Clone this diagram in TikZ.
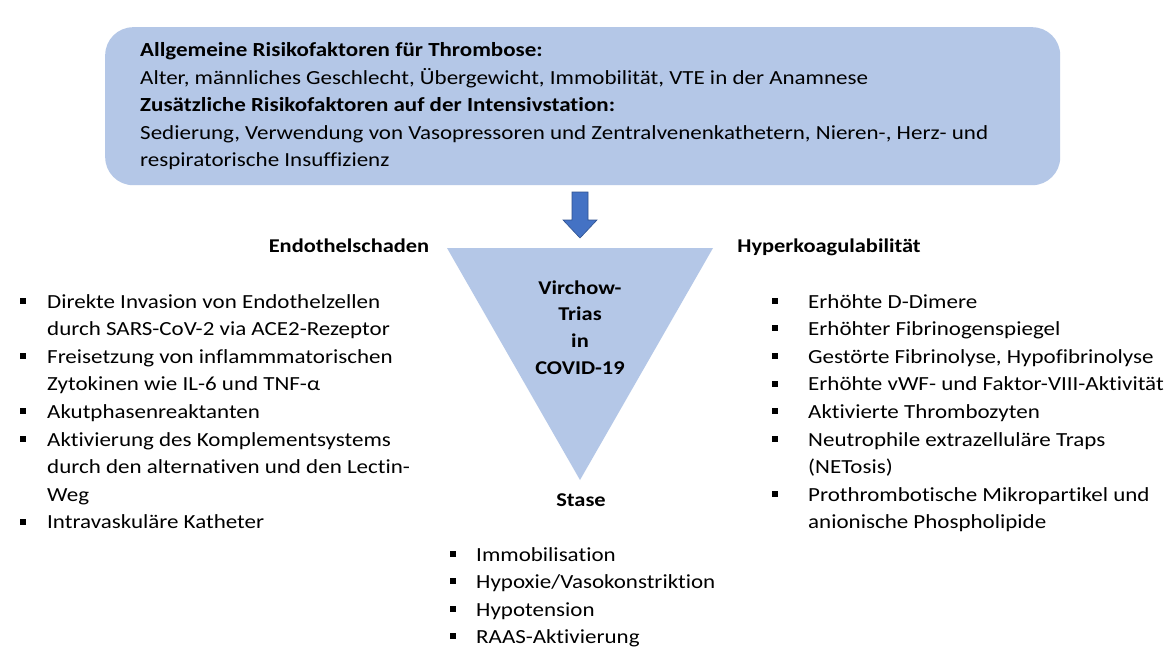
\documentclass[tikz,border=0pt]{standalone}
\usepackage{fontspec}
\setmainfont{Carlito}[FakeStretch=1.15, Ligatures=CommonOff]
\definecolor{boxblue}{HTML}{B4C7E7}
\definecolor{arrowblue}{HTML}{4472C4}
\definecolor{arrowdark}{HTML}{2F528F}
\begin{document}
\begin{tikzpicture}[x=1pt,y=-1pt,
  txt/.style={font=\fontsize{20}{24}\selectfont, inner sep=0pt, anchor=base west, text=black},
  bold/.style={txt, font=\fontsize{20}{24}\selectfont\bfseries},
  head/.style={txt, font=\fontsize{19.5}{24}\selectfont\bfseries, anchor=base},
  bul/.style={fill=black, inner sep=0pt, minimum size=6pt, draw=none},
  panel/.style={fill=boxblue, draw=none, rounded corners=28pt},
  bigarrow/.style={fill=arrowblue, draw=arrowdark, line width=0.6pt}
]
\useasboundingbox (0,0) rectangle (1173,664);
\fill[white] (0,0) rectangle (1173,664);

% top panel
\node[panel, anchor=north west, minimum width=955pt, minimum height=158pt] (top) at (105,27) {};
\node[bold] (t1) at (140,56.5) {Allgemeine Risikofaktoren für Thrombose:};
\node[txt] (t2) at (140,84) {Alter, männliches Geschlecht, Übergewicht, Immobilität, VTE in der Anamnese};
\node[bold] (t3) at (140,111.5) {Zusätzliche Risikofaktoren auf der Intensivstation:};
\node[txt] (t4) at (140,139) {Sedierung, Verwendung von Vasopressoren und Zentralvenenkathetern, Nieren-, Herz- und};
\node[txt] (t5) at (140,166.5) {respiratorische Insuffizienz};

% triangle
\coordinate (tl) at (447,248);
\coordinate (tr) at (713,248);
\coordinate (ap) at (580,480);
\fill[boxblue] (tl) -- (tr) -- (ap) -- cycle;
\node[head] (v1) at (580,294) {Virchow-};
\node[head] (v2) at (580,320) {Trias};
\node[head] (v3) at (580,347) {in};
\node[head] (v4) at (580,374) {COVID-19};

% arrow
\draw[bigarrow] (572,192) -- (588,192) -- (588,220) -- (597,220) -- (580,238) -- (563,220) -- (572,220) -- cycle;

% headings
\node[head] (h1) at (349,252) {Endothelschaden};
\node[head] (h2) at (829,252) {Hyperkoagulabilität};
\node[head] (h3) at (581,506) {Stase};

% left list
\node[bul] (lb1) at (22.5,300.5) {};
\node[txt] (l1a) at (47,308) {Direkte Invasion von Endothelzellen};
\node[txt] (l1b) at (47,335.5) {durch SARS-CoV-2 via ACE2-Rezeptor};
\node[bul] (lb2) at (22.5,356) {};
\node[txt] (l2a) at (47,363) {Freisetzung von inflammmatorischen};
\node[txt] (l2b) at (47,390.5) {Zytokinen wie IL-6 und TNF-α};
\node[bul] (lb3) at (22.5,411) {};
\node[txt] (l3a) at (47,418) {Akutphasenreaktanten};
\node[bul] (lb4) at (22.5,439) {};
\node[txt] (l4a) at (47,446) {Aktivierung des Komplementsystems};
\node[txt] (l4b) at (47,473.5) {durch den alternativen und den Lectin-};
\node[txt] (l4c) at (47,501) {Weg};
\node[bul] (lb5) at (22.5,521.5) {};
\node[txt] (l5a) at (47,528.5) {Intravaskuläre Katheter};

% right list
\node[bul] (rb1) at (774.5,300.5) {};
\node[txt] (r1) at (808,308) {Erhöhte D-Dimere};
\node[bul] (rb2) at (774.5,328) {};
\node[txt] (r2) at (808,335.5) {Erhöhter Fibrinogenspiegel};
\node[bul] (rb3) at (774.5,356) {};
\node[txt] (r3) at (808,363) {Gestörte Fibrinolyse, Hypofibrinolyse};
\node[bul] (rb4) at (774.5,383.5) {};
\node[txt] (r4) at (808,390.5) {Erhöhte vWF- und Faktor-VIII-Aktivität};
\node[bul] (rb5) at (774.5,411) {};
\node[txt] (r5) at (808,418) {Aktivierte Thrombozyten};
\node[bul] (rb6) at (774.5,439) {};
\node[txt] (r6a) at (808,446) {Neutrophile extrazelluläre Traps};
\node[txt] (r6b) at (808,473.5) {(NETosis)};
\node[bul] (rb7) at (774.5,494) {};
\node[txt] (r7a) at (808,501) {Prothrombotische Mikropartikel und};
\node[txt] (r7b) at (808,528.5) {anionische Phospholipide};

% bottom list
\node[bul] (sb1) at (452.5,553.5) {};
\node[txt] (s1) at (476,561) {Immobilisation};
\node[bul] (sb2) at (452.5,581) {};
\node[txt] (s2) at (476,588.5) {Hypoxie/Vasokonstriktion};
\node[bul] (sb3) at (452.5,608.5) {};
\node[txt] (s3) at (476,616) {Hypotension};
\node[bul] (sb4) at (452.5,636) {};
\node[txt] (s4) at (476,643.5) {RAAS-Aktivierung};
\end{tikzpicture}
\end{document}
